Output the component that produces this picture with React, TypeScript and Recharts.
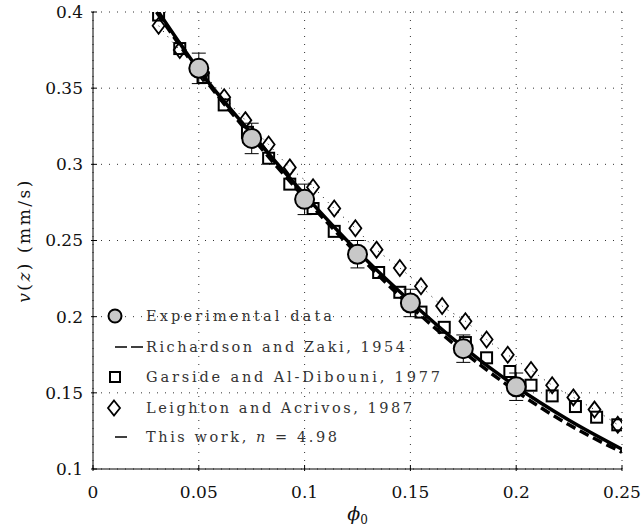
import React from "react";
import {
  ComposedChart,
  XAxis,
  YAxis,
  CartesianGrid,
  Scatter,
  Line,
  ErrorBar,
  Legend,
  Label,
} from "recharts";

// axis ticks
const xTicks = [0, 0.05, 0.1, 0.15, 0.2, 0.25];
const yTicks = [0.1, 0.15, 0.2, 0.25, 0.3, 0.35, 0.4];

// experimental data (circles with error bars)
const expPhi = [0.05, 0.075, 0.1, 0.125, 0.15, 0.175, 0.2];
const expV = [0.363, 0.317, 0.277, 0.241, 0.209, 0.179, 0.154];
const expErr = [0.01, 0.01, 0.01, 0.009, 0.009, 0.009, 0.009];

// Garside and Al-Dibouni, 1977 (squares)
const garPhi = [0.031, 0.041, 0.052, 0.062, 0.073, 0.083, 0.093, 0.104, 0.114, 0.124, 0.135, 0.145, 0.155, 0.166, 0.176, 0.186, 0.197, 0.207, 0.217, 0.228, 0.238, 0.248];
const garV = [0.398, 0.376, 0.357, 0.339, 0.321, 0.304, 0.287, 0.271, 0.256, 0.242, 0.229, 0.216, 0.203, 0.193, 0.183, 0.173, 0.164, 0.155, 0.148, 0.141, 0.134, 0.129];

// Leighton and Acrivos, 1987 (diamonds)
const leiPhi = [0.031, 0.041, 0.052, 0.062, 0.072, 0.083, 0.093, 0.104, 0.114, 0.124, 0.134, 0.145, 0.155, 0.165, 0.176, 0.186, 0.196, 0.207, 0.217, 0.227, 0.237, 0.248];
const leiV = [0.391, 0.375, 0.36, 0.344, 0.329, 0.313, 0.298, 0.285, 0.271, 0.258, 0.244, 0.232, 0.22, 0.207, 0.197, 0.185, 0.175, 0.165, 0.155, 0.147, 0.139, 0.129];

// model curves
const curvePhi = [0.03, 0.05, 0.075, 0.1, 0.125, 0.15, 0.175, 0.2, 0.225, 0.25];
const rzV = [0.4, 0.361, 0.318, 0.278, 0.241, 0.207, 0.177, 0.151, 0.129, 0.111];
const thisV = [0.402, 0.362, 0.32, 0.28, 0.243, 0.21, 0.18, 0.154, 0.132, 0.113];

const expData = expPhi.map((x, i) => ({ x, y: expV[i], err: expErr[i] }));
const garData = garPhi.map((x, i) => ({ x, y: garV[i] }));
const leiData = leiPhi.map((x, i) => ({ x, y: leiV[i] }));
const rzData = curvePhi.map((x, i) => ({ x, y: rzV[i] }));
const thisData = curvePhi.map((x, i) => ({ x, y: thisV[i] }));

const FONT = "DejaVu Serif";

const CircleShape = (p: any) => (
  <circle cx={p.cx} cy={p.cy} r={9.5} fill="#c8c8c8" stroke="#000" strokeWidth={2} />
);
const SquareShape = (p: any) => (
  <rect x={p.cx - 5.5} y={p.cy - 5.5} width={11} height={11} fill="none" stroke="#000" strokeWidth={2} />
);
const DiamondShape = (p: any) => (
  <path
    d={`M${p.cx},${p.cy - 8} L${p.cx + 6},${p.cy} L${p.cx},${p.cy + 8} L${p.cx - 6},${p.cy} Z`}
    fill="none"
    stroke="#000"
    strokeWidth={1.8}
  />
);

const BottomTick = (p: any) => (
  <g>
    <line x1={p.x} y1={p.y} x2={p.x} y2={p.y - 6} stroke="#000" />
    <text x={p.x} y={p.y + 27} textAnchor="middle" fontFamily={FONT} fontSize={17} fill="#111">
      {p.payload.value}
    </text>
  </g>
);
const LeftTick = (p: any) => (
  <g>
    <line x1={p.x} y1={p.y} x2={p.x + 6} y2={p.y} stroke="#000" />
    <text x={p.x - 8} y={p.y} dy="0.35em" textAnchor="end" fontFamily={FONT} fontSize={17} fill="#111">
      {p.payload.value}
    </text>
  </g>
);
const TopTick = (p: any) => <line x1={p.x} y1={p.y} x2={p.x} y2={p.y + 6} stroke="#000" />;
const RightTick = (p: any) => <line x1={p.x} y1={p.y} x2={p.x - 6} y2={p.y} stroke="#000" />;

function LegendBox() {
  const t = { fontFamily: FONT, fontSize: 14.5, fill: "#333", lengthAdjust: "spacing" };
  return (
    <svg width={420} height={160} style={{ display: "block" }}>
      <circle cx={15} cy={16} r={6.5} fill="#c8c8c8" stroke="#000" strokeWidth={2} />
      <text x={46} y={16} dy="0.36em" textLength={186} {...t}>Experimental data</text>
      <line x1={15} y1={47} x2={43} y2={47} stroke="#000" strokeWidth={1.5} strokeDasharray="12 4" />
      <text x={46} y={47} dy="0.36em" textLength={259} {...t}>Richardson and Zaki, 1954</text>
      <rect x={10} y={72} width={10} height={10} fill="none" stroke="#000" strokeWidth={2} />
      <text x={46} y={77} dy="0.36em" textLength={294} {...t}>Garside and Al-Dibouni, 1977</text>
      <path d="M14,100.5 L20,108 L14,115.5 L8,108 Z" fill="none" stroke="#000" strokeWidth={1.8} />
      <text x={46} y={108} dy="0.36em" textLength={266} {...t}>Leighton and Acrivos, 1987</text>
      <line x1={15} y1={137} x2={27} y2={137} stroke="#000" strokeWidth={1.5} />
      <text x={46} y={137} dy="0.36em" textLength={191} {...t}>
        This work, <tspan fontStyle="italic">n</tspan> = 4.98
      </text>
    </svg>
  );
}

const YLabel = (p: any) => {
  const vb = p.viewBox;
  const cx = vb.x + 24;
  const cy = vb.y + vb.height / 2;
  return (
    <text
      x={cx}
      y={cy}
      transform={`rotate(-90 ${cx} ${cy})`}
      textAnchor="middle"
      dy="0.35em"
      fontFamily={FONT}
      fontSize={17}
      letterSpacing={2.5}
      fill="#111"
    >
      <tspan fontStyle="italic">v</tspan>(<tspan fontStyle="italic">z</tspan>) (mm/s)
    </text>
  );
};

const XLabel = (p: any) => {
  const vb = p.viewBox;
  const cx = vb.x + vb.width / 2;
  return (
    <text x={cx} y={vb.y + 51} textAnchor="middle" fontFamily={FONT} fontSize={19} fill="#111">
      <tspan fontStyle="italic">ϕ</tspan>
      <tspan fontSize={12} dy={4}>0</tspan>
    </text>
  );
};

export default function App() {
  return (
    <div style={{ position: "absolute", left: 0, top: 0, width: 643, height: 531, background: "#fff" }}>
      <ComposedChart width={643} height={531} margin={{ top: 12, right: 21, bottom: 0, left: 0 }}>
        <CartesianGrid stroke="#333" strokeDasharray="1 7" horizontalValues={yTicks} verticalValues={xTicks} />
        <XAxis
          type="number"
          dataKey="x"
          domain={[0, 0.25]}
          ticks={xTicks}
          height={62}
          tickSize={0}
          tickLine={false}
          tick={<BottomTick />}
          axisLine={{ stroke: "#000" }}
          allowDataOverflow
        >
          <Label content={<XLabel />} />
        </XAxis>
        <XAxis
          xAxisId="t"
          orientation="top"
          type="number"
          domain={[0, 0.25]}
          ticks={xTicks}
          height={0}
          tickSize={0}
          tickLine={false}
          tick={<TopTick />}
          axisLine={{ stroke: "#000" }}
        />
        <YAxis
          type="number"
          domain={[0.1, 0.4]}
          ticks={yTicks}
          width={93}
          tickSize={0}
          tickLine={false}
          tick={<LeftTick />}
          axisLine={{ stroke: "#000" }}
          allowDataOverflow
        >
          <Label content={<YLabel />} />
        </YAxis>
        <YAxis
          yAxisId="r"
          orientation="right"
          type="number"
          domain={[0.1, 0.4]}
          ticks={yTicks}
          width={0}
          tickSize={0}
          tickLine={false}
          tick={<RightTick />}
          axisLine={{ stroke: "#000" }}
        />
        <Line
          data={leiData}
          dataKey="y"
          type="monotone"
          stroke="#000"
          strokeWidth={1}
          strokeDasharray="1 6"
          dot={false}
          isAnimationActive={false}
        />
        <Scatter data={leiData} dataKey="y" shape={<DiamondShape />} isAnimationActive={false} />
        <Scatter data={garData} dataKey="y" shape={<SquareShape />} isAnimationActive={false} />
        <Line
          data={thisData}
          dataKey="y"
          type="monotone"
          stroke="#000"
          strokeWidth={3.5}
          dot={false}
          isAnimationActive={false}
        />
        <Line
          data={rzData}
          dataKey="y"
          type="monotone"
          stroke="#000"
          strokeWidth={3.5}
          strokeDasharray="10 5"
          dot={false}
          isAnimationActive={false}
        />
        <Scatter data={expData} dataKey="y" shape={<CircleShape />} isAnimationActive={false}>
          <ErrorBar dataKey="err" direction="y" width={7} stroke="#000" strokeWidth={1} />
        </Scatter>
        <Legend
          layout="vertical"
          align="center"
          verticalAlign="middle"
          content={<LegendBox />}
          wrapperStyle={{ left: 100, top: 300, width: 420, height: 160 }}
        />
      </ComposedChart>
    </div>
  );
}
